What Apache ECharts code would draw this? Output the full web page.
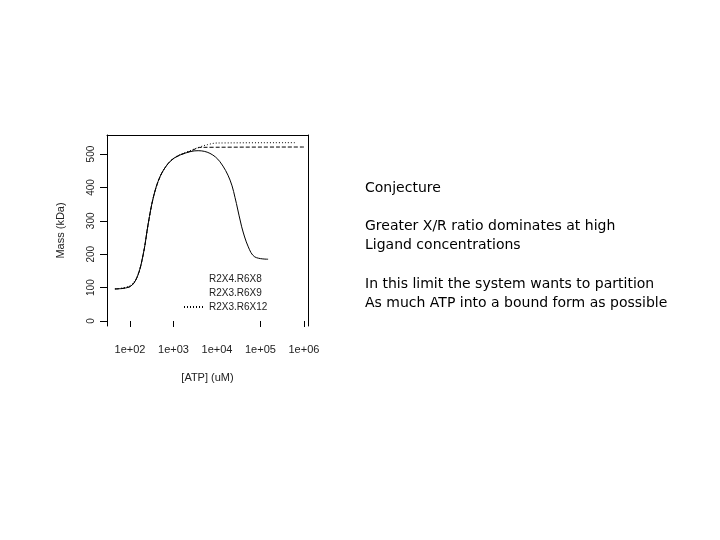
<!DOCTYPE html>
<html style="height: 100%">
<head>
    <meta charset="utf-8">
    <script src="https://cdn.jsdelivr.net/npm/echarts@6/dist/echarts.min.js"></script>
</head>
<body style="height: 100%; margin: 0; background: #fff">
<div id="container" style="width: 720px; height: 540px"></div>
<script type="text/javascript">
    // ATP concentration (uM) and mass (kDa)
    var seriesNames = ['R2X4.R6X8', 'R2X3.R6X9', 'R2X3.R6X12'];

    var atpA  = [45, 100, 148, 204, 263, 347, 490, 760, 1175, 2400, 3700, 6900, 11700, 20000, 28000, 37000, 52500, 74000, 150000];
    var massA = [96, 103, 133, 203, 292, 372, 432, 472, 492, 507, 510, 502, 477, 422, 352, 282, 222, 192, 185];

    var atpB  = [45, 100, 148, 204, 263, 347, 490, 760, 1175, 2400, 4300, 1050000];
    var massB = [96, 103, 133, 203, 292, 372, 432, 472, 492, 508, 520, 521];

    var atpC  = [45, 100, 148, 204, 263, 347, 490, 760, 1175, 2400, 4000, 6000, 10000, 620000];
    var massC = [96, 106, 135, 204, 292, 372, 432, 472, 493, 510, 521, 528, 533, 534];

    var xTicks = [100, 1000, 100000, 1000000];
    var xLabels = [100, 1000, 10000, 100000, 1000000];
    var yTicks = [0, 100, 200, 300, 400, 500];

    var noteLines = [
        'Conjecture',
        'Greater X/R ratio dominates at high',
        'Ligand concentrations',
        'In this limit the system wants to partition',
        'As much ATP into a bound form as possible'
    ];
    var noteY = [188, 226, 245, 284, 303];

    function pairs(xs, ys) {
        var out = [];
        for (var i = 0; i < xs.length; i++) {
            out.push([xs[i], ys[i]]);
        }
        return out;
    }

    function expLabel(v) {
        var e = Math.round(Math.log(v) / Math.LN10);
        return '1e+' + (e < 10 ? '0' + e : e);
    }

    var dom = document.getElementById('container');
    var myChart = echarts.init(dom);

    var lineTypes = ['solid', 'dashed', [1, 2]];
    var allData = [pairs(atpA, massA), pairs(atpB, massB), pairs(atpC, massC)];
    var series = [];
    for (var i = 0; i < 3; i++) {
        series.push({
            name: seriesNames[i],
            type: 'line',
            data: allData[i],
            smooth: 0.35,
            symbol: 'none',
            lineStyle: {color: '#000', width: 1, type: lineTypes[i]},
            itemStyle: {color: '#000'}
        });
    }

    var graphics = [];
    for (var j = 0; j < noteLines.length; j++) {
        graphics.push({
            type: 'text',
            x: 365,
            y: noteY[j],
            style: {
                text: noteLines[j],
                font: '14px "DejaVu Sans"',
                fill: '#000',
                verticalAlign: 'middle'
            }
        });
    }

    // only the dotted entry shows its sample line in the original
    var legendData = [
        {name: seriesNames[0], lineStyle: {opacity: 0}},
        {name: seriesNames[1], lineStyle: {opacity: 0}},
        {name: seriesNames[2]}
    ];

    myChart.setOption({
        animation: false,
        backgroundColor: '#fff',
        textStyle: {fontFamily: 'Liberation Sans'},
        grid: {left: 107, top: 135, width: 201, height: 191},
        legend: {
            orient: 'vertical',
            left: 178,
            top: 269,
            itemWidth: 20,
            itemHeight: 8,
            itemGap: 4,
            itemStyle: {opacity: 0},
            textStyle: {fontSize: 10, color: '#222'},
            data: legendData
        },
        xAxis: [{
            type: 'log',
            min: 29.6,
            max: 1240000,
            name: '[ATP] (uM)',
            nameLocation: 'middle',
            nameGap: 46,
            nameTextStyle: {fontSize: 11, color: '#222'},
            axisLine: {show: false},
            axisTick: {show: true, length: 6, lineStyle: {color: '#000'}, customValues: xTicks},
            axisLabel: {fontSize: 11, color: '#222', margin: 18, customValues: xLabels, formatter: expLabel},
            splitLine: {show: false},
            minorTick: {show: false}
        }, {
            type: 'log',
            position: 'top',
            min: 29.6,
            max: 1240000,
            axisLine: {show: true, onZero: false, lineStyle: {color: '#000', width: 1}},
            axisTick: {show: false},
            axisLabel: {show: false},
            splitLine: {show: false}
        }],
        yAxis: [{
            type: 'value',
            min: -15,
            max: 557,
            name: 'Mass (kDa)',
            nameLocation: 'middle',
            nameGap: 41,
            nameRotate: 90,
            nameTextStyle: {fontSize: 11, color: '#222'},
            axisLine: {show: true, onZero: false, lineStyle: {color: '#000', width: 1}},
            axisTick: {show: true, length: 7, lineStyle: {color: '#000'}, customValues: yTicks},
            axisLabel: {fontSize: 10, color: '#222', rotate: 90, margin: 11, customValues: yTicks},
            splitLine: {show: false}
        }, {
            type: 'value',
            position: 'right',
            min: -15,
            max: 557,
            axisLine: {show: true, onZero: false, lineStyle: {color: '#000', width: 1}},
            axisTick: {show: false},
            axisLabel: {show: false},
            splitLine: {show: false}
        }],
        graphic: graphics,
        series: series
    });
</script>
</body>
</html>
